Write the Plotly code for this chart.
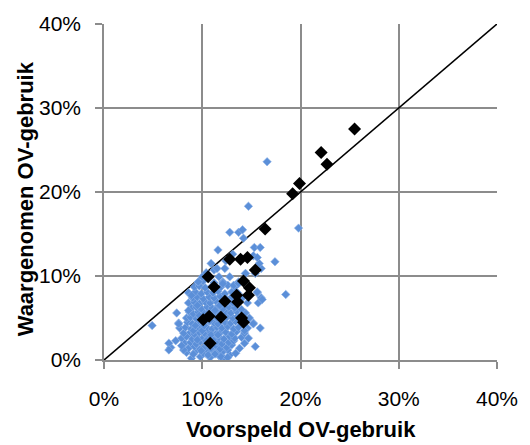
import plotly.graph_objects as go

# Black diamonds (predicted, observed) in %
black_x = [25.5, 22.1, 22.7, 19.9, 19.2, 16.4, 12.8, 13.9, 14.6, 15.4, 10.6, 11.2,
           14.2, 14.8, 14.7, 13.5, 12.3, 13.6, 11.9, 10.7, 10.1, 14.0, 14.2, 10.8]
black_y = [27.5, 24.7, 23.3, 21.0, 19.8, 15.6, 12.0, 12.0, 12.2, 10.7, 9.9, 8.7,
           9.4, 8.6, 7.7, 7.7, 7.0, 6.9, 5.1, 5.2, 4.8, 5.0, 4.5, 2.0]

# Blue markers (predicted, observed) in %
blue_x = [
    8.9, 9.8, 10.8, 11.7, 12.2, 12.8, 10.3,
    8.4, 9.3, 10.1, 10.6, 11.3, 12.1, 12.6, 13.4,
    6.8, 8.6, 9.2, 9.8, 10.3, 10.9, 11.4, 11.8, 12.5, 13.0, 13.8,
    6.6, 7.3, 8.2, 8.8, 9.4, 9.8, 10.4, 11.0, 11.5, 12.0, 12.7, 13.2, 14.3,
    7.9, 8.4, 9.0, 9.5, 10.1, 10.5, 11.1, 11.7, 12.2, 12.8, 13.3, 14.0, 14.7,
    8.1, 8.8, 9.2, 9.7, 10.2, 10.8, 11.4, 11.8, 12.4, 13.0, 13.5, 14.3,
    7.7, 8.3, 8.9, 9.4, 9.9, 10.5, 11.0, 11.5, 12.0, 12.6, 13.2, 13.7, 14.6, 15.9,
    7.6, 8.5, 9.0, 9.6, 10.1, 10.7, 11.2, 11.6, 12.3, 12.9, 13.4, 15.2,
    8.4, 8.8, 9.4, 9.8, 10.3, 10.9, 11.5, 12.0, 12.5, 13.1, 13.6, 14.8,
    7.4, 8.7, 9.1, 9.6, 10.2, 10.7, 11.3, 11.8, 12.4, 12.9, 13.5, 14.4,
    8.9, 9.4, 9.9, 10.5, 11.0, 11.6, 12.1, 12.7, 13.3, 14.0,
    8.6, 9.2, 9.7, 10.3, 10.8, 11.4, 11.9, 12.6, 13.1, 14.6, 15.7,
    9.0, 9.5, 10.1, 10.7, 11.2, 11.8, 12.4, 13.0, 14.1, 16.0,
    8.6, 9.3, 9.9, 10.5, 11.1, 11.6, 12.3, 13.0, 13.6, 15.6, 18.5,
    9.2, 9.7, 10.3, 11.0, 11.9, 12.6, 13.3,
    9.6, 10.1, 11.2, 12.1, 13.7,
    10.0, 11.7, 12.8,
    10.4, 11.2, 14.4, 15.4,
    11.5, 12.3, 16.0,
    10.9, 12.4, 15.8,
    4.9, 6.6, 7.6, 9.6, 11.6, 12.8, 13.7, 14.1, 14.2, 15.3, 15.9, 17.4, 19.8,
    16.6, 14.7, 16.1, 15.4, 14.3, 15.2, 13.1, 15.2, 15.6, 12.1, 13.2, 13.7, 14.4, 15.6,
    9.1, 10.6, 11.9, 8.1, 12.6, 7.9, 9.9, 11.3,
    9.5, 10.4, 11.1, 9.1, 10.0, 10.9, 11.6, 9.3, 10.2, 10.8, 9.7, 10.6, 11.3,
    8.6, 9.5, 11.8, 12.2, 8.9,
]
blue_y = [
    0.2, 0.4, 0.3, 0.5, 0.2, 0.6, 0.8,
    0.9, 1.0, 0.8, 1.1, 0.9, 1.0, 1.2, 0.8,
    1.5, 1.4, 1.6, 1.3, 1.6, 1.4, 1.7, 1.3, 1.5, 1.8, 1.4,
    2.0, 2.3, 2.0, 2.1, 1.9, 2.2, 2.0, 2.1, 2.2, 1.9, 2.1, 2.3, 2.0,
    2.6, 2.8, 2.5, 2.7, 2.6, 2.9, 2.6, 2.7, 2.5, 2.8, 2.6, 2.7, 2.6,
    3.2, 3.3, 3.1, 3.3, 3.2, 3.4, 3.1, 3.2, 3.3, 3.1, 3.4, 3.2,
    3.8, 3.9, 3.7, 3.8, 4.0, 3.8, 3.7, 3.9, 3.8, 4.0, 3.7, 3.9, 3.8, 3.8,
    4.4, 4.5, 4.3, 4.5, 4.4, 4.6, 4.4, 4.3, 4.5, 4.4, 4.6, 4.4,
    5.0, 5.1, 4.9, 5.1, 5.0, 5.2, 5.0, 4.9, 5.1, 5.0, 5.2, 5.0,
    5.6, 5.7, 5.5, 5.7, 5.6, 5.8, 5.6, 5.5, 5.7, 5.6, 5.8, 5.6,
    6.2, 6.3, 6.1, 6.3, 6.2, 6.4, 6.1, 6.3, 6.2, 6.0,
    6.8, 6.9, 6.7, 6.9, 6.8, 7.0, 6.7, 6.9, 6.8, 6.8, 6.8,
    7.4, 7.5, 7.3, 7.5, 7.4, 7.6, 7.3, 7.5, 7.4, 7.4,
    8.0, 8.1, 7.9, 8.1, 8.0, 8.2, 7.9, 8.1, 8.0, 8.0, 7.8,
    8.7, 8.8, 8.6, 8.8, 8.7, 8.9, 8.7,
    9.3, 9.4, 9.2, 9.3, 9.3,
    9.9, 9.9, 9.9,
    10.4, 10.7, 10.3, 10.3,
    10.9, 10.9, 10.9,
    11.5, 11.8, 11.5,
    4.1, 1.2, 4.3, 9.3, 13.1, 15.2, 15.2, 15.5, 14.5, 13.4, 13.4, 11.7, 15.7,
    23.6, 18.3, 7.2, 1.6, 3.5, 4.3, 12.6, 12.4, 12.2, 9.1, 8.9, 9.1, 10.3, 8.1,
    0.7, 0.6, 0.4, 1.2, 0.3, 1.7, 1.1, 0.7,
    2.4, 2.3, 2.4, 3.5, 3.5, 3.0, 3.0, 4.1, 4.1, 4.7, 5.3, 5.3, 5.9,
    5.9, 6.5, 6.5, 7.1, 7.7,
]

ticks = [0, 10, 20, 30, 40]
tick_text = ["0%", "10%", "20%", "30%", "40%"]
diag = [0, 40]

fig = go.Figure()
fig.add_trace(go.Scatter(
    x=diag, y=diag, mode="lines",
    line=dict(color="black", width=1.6), hoverinfo="skip", showlegend=False))
fig.add_trace(go.Scatter(
    x=blue_x, y=blue_y, mode="markers",
    marker=dict(symbol="diamond", size=6.5, color="#5B8FD8",
                line=dict(color="#8DB2E8", width=0.6)),
    showlegend=False))
fig.add_trace(go.Scatter(
    x=black_x, y=black_y, mode="markers",
    marker=dict(symbol="diamond", size=10, color="black", line=dict(width=0)),
    showlegend=False))

axis_common = dict(
    range=[0, 40], tickvals=ticks, ticktext=tick_text,
    showgrid=True, gridcolor="#8C8C8C", gridwidth=1.5,
    showline=True, linecolor="#8C8C8C", linewidth=1.5,
    ticks="outside", ticklen=7, tickcolor="#8C8C8C", tickwidth=1.5,
    zeroline=False, mirror=False,
    tickfont=dict(family="Liberation Sans, Arial, sans-serif", size=21, color="black"),
)
fig.update_xaxes(**axis_common)
fig.update_yaxes(**axis_common)
fig.update_yaxes(ticklabelstandoff=10)
fig.update_xaxes(ticklabelstandoff=12)

fig.update_layout(
    width=530, height=445,
    margin=dict(l=104, r=25, t=22, b=85),
    plot_bgcolor="white", paper_bgcolor="white",
    annotations=[
        dict(text="<b>Voorspeld OV-gebruik</b>", xref="paper", yref="paper",
             x=0.5, y=-70 / 338, xanchor="center", yanchor="middle", showarrow=False,
             font=dict(family="Liberation Sans, Arial, sans-serif", size=22, color="black")),
        dict(text="<b>Waargenomen OV-gebruik</b>", xref="paper", yref="paper",
             x=-80 / 401, y=0.48, xanchor="center", yanchor="middle", showarrow=False,
             textangle=-90,
             font=dict(family="Liberation Sans, Arial, sans-serif", size=22, color="black")),
    ],
)

fig.write_html("out.html", config={"displayModeBar": False},
               post_script="document.body.style.margin='0';document.body.style.overflow='hidden';")
